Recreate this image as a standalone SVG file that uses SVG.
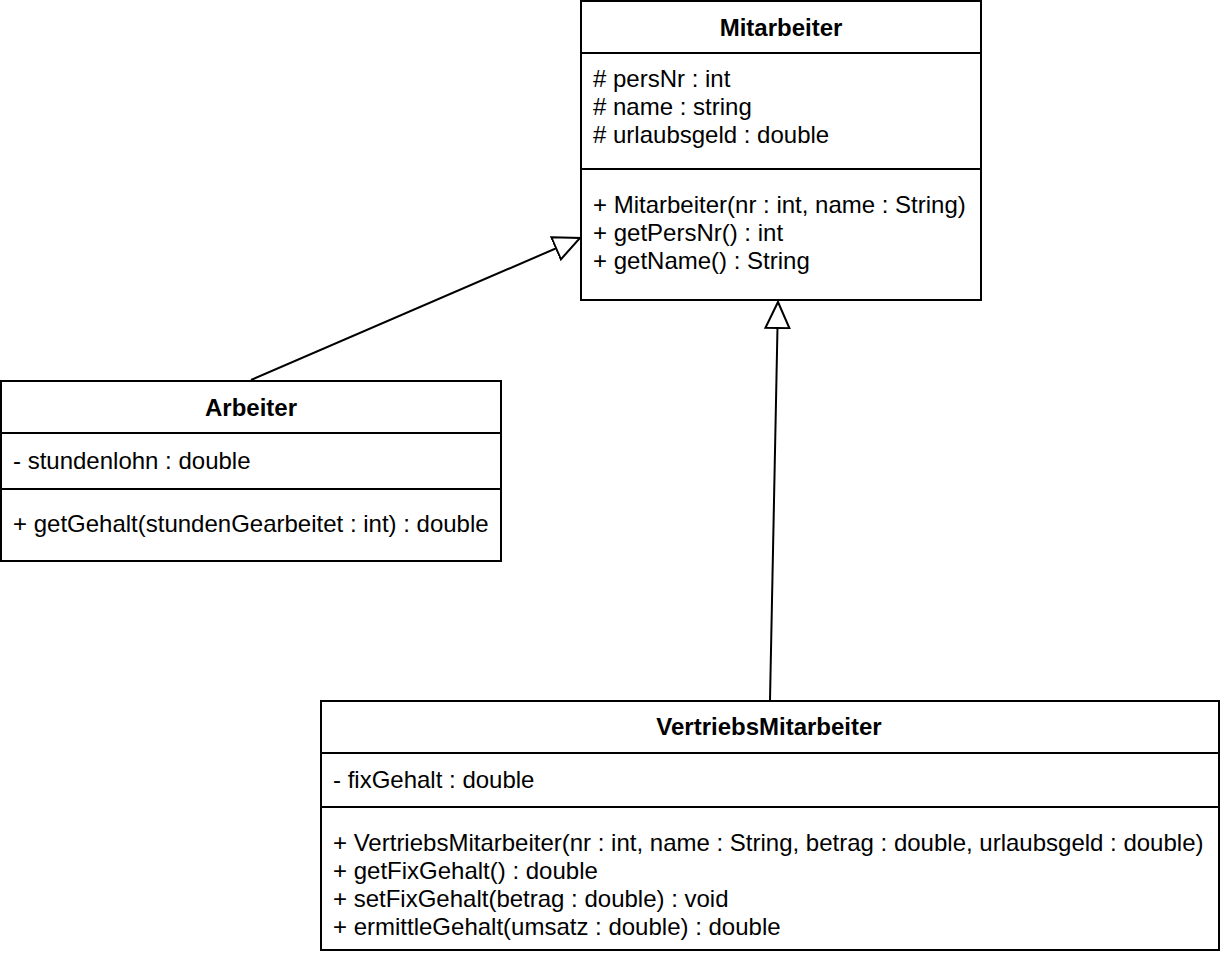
<svg xmlns="http://www.w3.org/2000/svg" width="1220" height="958" viewBox="0 0 1220 958">
<defs>
<style>
.box{fill:#fff;stroke:#000;stroke-width:2}
.sep{stroke:#000;stroke-width:2}
.t{font-family:"Liberation Sans",Arial,sans-serif;font-size:24px;fill:#000}
.h{font-family:"Liberation Sans",Arial,sans-serif;font-size:24px;font-weight:bold;fill:#000;text-anchor:middle}
.edge{stroke:#000;stroke-width:2;fill:none}
</style>
<marker id="gen" markerUnits="userSpaceOnUse" markerWidth="30" markerHeight="30" refX="27" refY="13" orient="auto" viewBox="0 0 30 26">
<path d="M1,1 L27,13 L1,25 Z" fill="#fff" stroke="#000" stroke-width="2"/>
</marker>
</defs>
<rect width="1220" height="958" fill="#fff"/>
<g id="connectors">
<line class="edge" x1="251" y1="380" x2="580" y2="238" marker-end="url(#gen)"/>
<line class="edge" x1="770" y1="700" x2="778" y2="302" marker-end="url(#gen)"/>
</g>
<g id="Mitarbeiter">
<rect class="box" x="581" y="1" width="400" height="299"/>
<line class="sep" x1="581" y1="53" x2="981" y2="53"/>
<line class="sep" x1="581" y1="169" x2="981" y2="169"/>
<text class="h" x="781" y="36">Mitarbeiter</text>
<text class="t" x="593" y="87"># persNr : int</text>
<text class="t" x="593" y="115"># name : string</text>
<text class="t" x="593" y="143"># urlaubsgeld : double</text>
<text class="t" x="593" y="213">+ Mitarbeiter(nr : int, name : String)</text>
<text class="t" x="593" y="241">+ getPersNr() : int</text>
<text class="t" x="593" y="269">+ getName() : String</text>
</g>
<g id="Arbeiter">
<rect class="box" x="1" y="381" width="500" height="180"/>
<line class="sep" x1="1" y1="433" x2="501" y2="433"/>
<line class="sep" x1="1" y1="489" x2="501" y2="489"/>
<text class="h" x="251" y="416">Arbeiter</text>
<text class="t" x="13" y="469">- stundenlohn : double</text>
<text class="t" x="13" y="532">+ getGehalt(stundenGearbeitet : int) : double</text>
</g>
<g id="VertriebsMitarbeiter">
<rect class="box" x="321" y="701" width="898" height="249"/>
<line class="sep" x1="321" y1="753" x2="1219" y2="753"/>
<line class="sep" x1="321" y1="807" x2="1219" y2="807"/>
<text class="h" x="769" y="735">VertriebsMitarbeiter</text>
<text class="t" x="333" y="788">- fixGehalt : double</text>
<text class="t" x="333" y="851">+ VertriebsMitarbeiter(nr : int, name : String, betrag : double, urlaubsgeld : double)</text>
<text class="t" x="333" y="879">+ getFixGehalt() : double</text>
<text class="t" x="333" y="907">+ setFixGehalt(betrag : double) : void</text>
<text class="t" x="333" y="935">+ ermittleGehalt(umsatz : double) : double</text>
</g>
</svg>
